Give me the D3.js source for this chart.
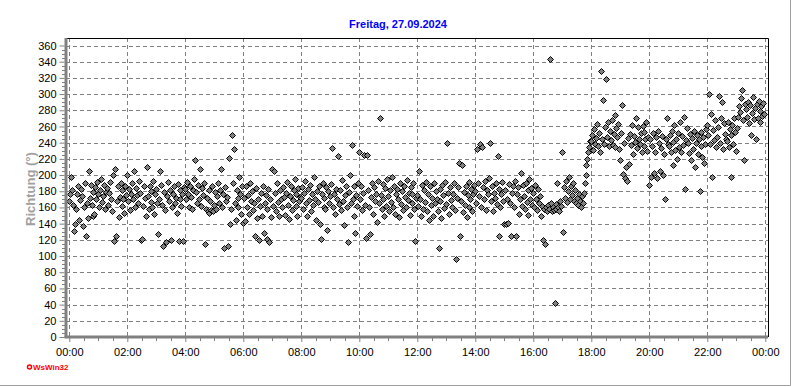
<!DOCTYPE html>
<html>
<head>
<meta charset="utf-8">
<script src="https://cdn.jsdelivr.net/npm/d3@7"></script>
<style>
  html, body { margin: 0; padding: 0; background: #fff; }
  svg { display: block; font-family: "Liberation Sans", Arial, sans-serif; }
</style>
</head>
<body>
<script>
const title = "Freitag, 27.09.2024";
const yLabel = "Richtung (°)";
const xTickLabels = ["00:00", "02:00", "04:00", "06:00", "08:00", "10:00", "12:00",
                     "14:00", "16:00", "18:00", "20:00", "22:00", "00:00"];
const yTicks = [0, 20, 40, 60, 80, 100, 120, 140, 160, 180, 200, 220, 240, 260, 280, 300, 320, 340, 360];

// wind direction every 2 minutes, one array per 2 hours (60 readings each)
const dir00 = [
  168,176,197,182,163,131,140,158,177,186,145,169,183,174,137,161,190,125,166,147,
  205,172,188,163,179,150,152,185,170,192,176,160,181,195,167,174,188,158,179,184,
  163,178,192,171,155,200,118,207,125,168,186,148,173,190,162,181,170,153,187,175];
const dir02 = [
  200,168,183,157,176,190,171,205,160,184,175,166,193,178,120,121,162,187,172,150,
  210,174,158,186,167,180,161,193,152,176,183,165,127,170,205,188,163,112,179,157,
  117,174,191,168,182,120,160,177,186,165,172,153,189,118,170,181,162,176,118,185];
const dir04 = [
  183,170,192,176,161,187,173,158,182,195,218,179,166,188,171,207,162,184,175,190,
  115,158,172,155,181,153,168,157,186,156,163,179,158,174,190,165,182,207,160,176,
  110,185,168,173,113,221,140,158,249,190,232,165,145,182,172,160,198,177,152,186];
const dir06 = [
  141,172,143,186,160,175,152,190,168,180,157,165,125,184,147,170,120,162,178,150,
  186,128,165,175,121,158,183,117,170,148,207,162,205,178,155,190,167,150,182,171,
  160,185,173,151,178,191,163,146,174,187,157,169,181,195,162,176,150,184,168,173];
const dir08 = [
  172,185,158,178,193,166,150,183,169,188,155,176,163,197,171,145,180,167,186,140,
  121,176,190,160,172,158,185,132,180,166,174,189,233,161,177,152,183,170,224,164,
  182,157,194,168,138,175,186,160,117,179,200,166,237,171,150,187,128,175,162,190];
const dir10 = [
  228,170,186,157,178,225,163,122,225,181,160,127,173,190,152,185,168,177,142,193,
  166,270,175,158,189,170,150,184,162,195,174,156,181,167,198,160,187,152,176,183,
  171,148,190,164,180,157,186,173,161,194,169,178,151,185,165,176,190,158,118,172];
const dir12 = [
  175,162,205,170,150,188,158,182,167,191,155,176,145,186,163,172,150,190,166,180,
  170,156,110,183,168,147,188,175,159,192,164,240,178,152,185,169,160,176,190,157,
  96,172,185,215,125,168,212,154,179,163,186,148,175,192,160,170,183,156,177,188];
const dir14 = [
  180,166,232,190,174,238,161,235,185,170,193,157,182,176,196,240,168,187,155,178,
  172,190,164,224,183,125,160,177,192,168,140,182,140,171,141,189,165,125,178,186,
  160,193,125,176,185,152,171,203,162,188,174,158,190,167,181,151,195,170,184,163];
const dir16 = [
  178,160,188,170,157,183,165,174,150,162,120,158,115,160,156,163,158,343,165,155,
  160,157,42,164,158,190,160,155,168,162,228,130,185,172,193,167,180,198,170,187,
  175,190,168,182,165,172,163,176,168,160,174,165,178,190,200,212,220,228,235,242];
const dir18 = [
  242,250,231,257,238,246,263,236,252,228,328,245,293,238,259,319,247,266,236,254,
  243,268,237,251,274,235,258,247,263,232,218,252,287,201,240,196,210,193,246,214,
  251,237,262,226,248,241,270,233,259,245,238,252,229,261,236,253,244,265,230,247];
const dir20 = [
  188,245,198,236,252,203,228,247,196,255,240,205,233,248,200,226,170,244,271,238,
  236,249,228,255,213,241,262,231,244,220,252,235,265,229,248,237,272,183,243,258,
  240,227,251,218,246,232,255,210,239,249,226,244,180,236,253,222,247,215,238,257];
const dir22 = [
  262,250,300,238,275,198,256,243,268,235,247,259,298,240,271,290,232,264,251,244,
  242,266,235,257,197,249,262,238,270,253,230,258,272,285,278,295,305,268,218,288,
  281,272,290,264,286,250,277,296,269,283,245,288,270,292,279,266,285,273,289,276];

const blocks = [dir00, dir02, dir04, dir06, dir08, dir10, dir12, dir14, dir16, dir18, dir20, dir22];
const points = [];
blocks.forEach((arr, b) => arr.forEach((v, i) => points.push({ minute: b * 120 + i * 2, dir: v })));

const width = 792;
const height = 387;
const plotLeft = 69.3, plotRight = 765.3, plotTop = 45.5, plotBottom = 337;

const x = d3.scaleLinear().domain([0, 1440]).range([plotLeft, plotRight]);
const y = d3.scaleLinear().domain([0, 360]).range([plotBottom, plotTop]);

const svg = d3.select("body").append("svg")
    .attr("width", width)
    .attr("height", height);

// outer border (right / bottom)
svg.append("path")
    .attr("d", `M0,${height - 1.5}H${width - 1.5}V0`)
    .attr("fill", "none")
    .attr("stroke", "#a0a0a0")
    .attr("stroke-width", 1);

// title
svg.append("text")
    .attr("x", 398)
    .attr("y", 28)
    .attr("text-anchor", "middle")
    .style("font-size", "11px")
    .style("font-weight", "bold")
    .style("fill", "#0000ff")
    .text(title);

// grid
const grid = svg.append("g")
    .attr("stroke", "#808080")
    .attr("stroke-width", 1)
    .attr("stroke-dasharray", "4,3")
    .attr("shape-rendering", "crispEdges");

grid.selectAll("line.h")
    .data(yTicks.filter(d => d > 0))
    .enter().append("line")
    .attr("class", "h")
    .attr("x1", 66).attr("x2", 768)
    .attr("y1", d => Math.round(y(d)) + 0.5)
    .attr("y2", d => Math.round(y(d)) + 0.5);

grid.selectAll("line.v")
    .data(d3.range(0, 1441, 120))
    .enter().append("line")
    .attr("class", "v")
    .attr("y1", 38).attr("y2", 337)
    .attr("x1", d => Math.round(x(d)) + 0.5)
    .attr("x2", d => Math.round(x(d)) + 0.5);

// frame top and right
svg.append("path")
    .attr("d", "M66,38.5H768.5V337")
    .attr("fill", "none")
    .attr("stroke", "#000")
    .attr("stroke-width", 1);

// points
const diamond = "M0,-3L3,0L0,3L-3,0Z";
svg.append("g")
    .selectAll("path")
    .data(points)
    .enter().append("path")
    .attr("transform", d => `translate(${Math.round(x(d.minute)) + 0.5},${Math.round(y(d.dir)) + 0.5})`)
    .attr("d", diamond)
    .attr("fill", "#808080")
    .attr("stroke", "#000")
    .attr("stroke-width", 1);

// y axis
const yAxis = d3.axisLeft(y)
    .tickValues(yTicks)
    .tickSize(5)
    .tickPadding(3);
const gy = svg.append("g")
    .attr("transform", "translate(64.5,0)")
    .call(yAxis);
gy.select(".domain").remove();
gy.selectAll(".tick line").attr("stroke", "#808080");
gy.selectAll(".tick text")
    .style("font-size", "11px")
    .style("font-family", "'Liberation Sans', Arial, sans-serif")
    .attr("fill", "#000");

svg.append("g")
    .selectAll("line")
    .data(d3.range(0, 361, 5).filter(d => d % 20 !== 0))
    .enter().append("line")
    .attr("x1", 62).attr("x2", 65)
    .attr("y1", d => Math.round(y(d)) + 0.5)
    .attr("y2", d => Math.round(y(d)) + 0.5)
    .attr("stroke", "#808080");

// x axis
const xAxis = d3.axisBottom(x)
    .tickValues(d3.range(0, 1441, 120))
    .tickFormat((d, i) => xTickLabels[i])
    .tickSize(5)
    .tickPadding(6);
const gx = svg.append("g")
    .attr("transform", "translate(0,337)")
    .call(xAxis);
gx.select(".domain").remove();
gx.selectAll(".tick line").attr("stroke", "#808080");
gx.selectAll(".tick text")
    .style("font-size", "11px")
    .style("font-family", "'Liberation Sans', Arial, sans-serif")
    .attr("fill", "#000");

svg.append("g")
    .selectAll("line")
    .data(d3.range(0, 1441, 30).filter(d => d % 120 !== 0))
    .enter().append("line")
    .attr("x1", d => Math.round(x(d)) + 0.5)
    .attr("x2", d => Math.round(x(d)) + 0.5)
    .attr("y1", 337).attr("y2", 341)
    .attr("stroke", "#808080");

// thick gray axis lines
svg.append("line")
    .attr("x1", 66).attr("x2", 66)
    .attr("y1", 38).attr("y2", 338)
    .attr("stroke", "#808080")
    .attr("stroke-width", 3);
svg.append("line")
    .attr("x1", 64.5).attr("x2", 768)
    .attr("y1", 337).attr("y2", 337)
    .attr("stroke", "#808080")
    .attr("stroke-width", 3);

// y label
svg.append("text")
    .attr("transform", "translate(35,189) rotate(-90)")
    .attr("text-anchor", "middle")
    .style("font-size", "13px")
    .style("font-weight", "bold")
    .style("fill", "#a0a0a0")
    .text(yLabel);

// logo
svg.append("circle")
    .attr("cx", 29.5).attr("cy", 367)
    .attr("r", 2)
    .attr("fill", "none")
    .attr("stroke", "#ff0000")
    .attr("stroke-width", 1.5);
svg.append("text")
    .attr("x", 33)
    .attr("y", 370)
    .style("font-size", "8px")
    .style("font-weight", "bold")
    .style("fill", "#ff0000")
    .text("WsWin32");
</script>
</body>
</html>
